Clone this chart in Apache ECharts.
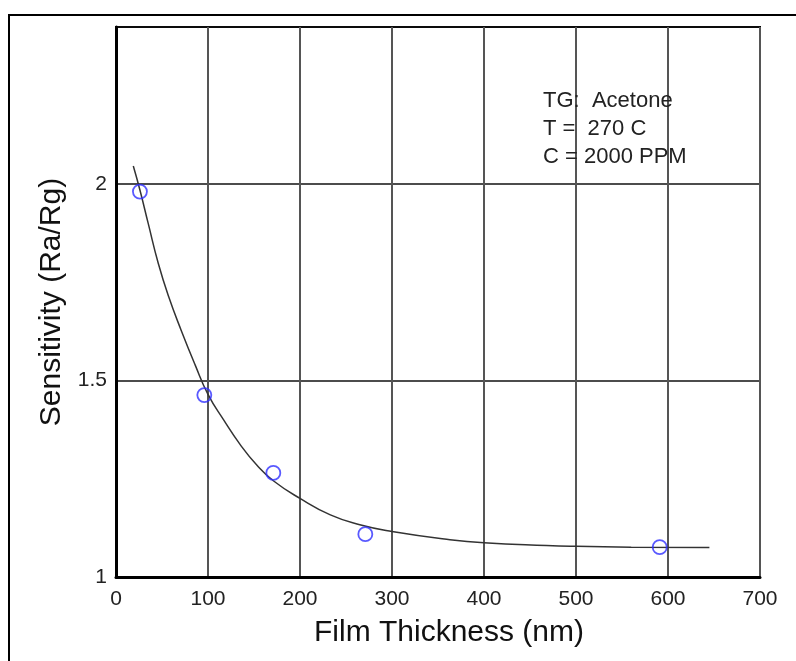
<!DOCTYPE html>
<html>
<head>
<meta charset="utf-8">
<script src="https://cdn.jsdelivr.net/npm/echarts@6/dist/echarts.min.js"></script>
<style>html,body{margin:0;padding:0;background:#fff}#c{width:796px;height:661px}</style>
</head>
<body>
<div id="c"></div>
<script>
// Measured data points (film thickness nm, sensitivity)
const pointX = [26, 96, 171, 271, 591];
const pointY = [1.981, 1.463, 1.265, 1.109, 1.076];
// Fitted curve
const curveX = [18.8, 26, 35, 46, 57, 71, 86, 100, 117, 135, 153, 171, 200, 233, 265, 300, 363, 400, 468, 500, 560, 645];
const curveY = [2.046, 1.985, 1.900, 1.798, 1.715, 1.627, 1.540, 1.465, 1.400, 1.337, 1.285, 1.245, 1.200, 1.158, 1.133, 1.116, 1.095, 1.087, 1.080, 1.078, 1.076, 1.075];
const xTicks = [0, 100, 200, 300, 400, 500, 600, 700];
const yTicks = [1, 1.5, 2];
const notes = ['TG:  Acetone', 'T =  270 C', 'C = 2000 PPM'];
const xName = 'Film Thickness (nm)';
const yName = 'Sensitivity (Ra/Rg)';

const FONT = 'Liberation Sans, Arial, sans-serif';
const chart = echarts.init(document.getElementById('c'));
chart.setOption({
  animation: false,
  backgroundColor: '#fff',
  grid: {left: 116, right: 36, top: 27, bottom: 84, show: true, borderColor: '#000', borderWidth: 2, backgroundColor: 'transparent'},
  xAxis: {
    type: 'value', min: xTicks[0], max: xTicks[xTicks.length - 1], interval: 100,
    name: xName, nameLocation: 'middle', nameGap: 41,
    nameTextStyle: {fontFamily: FONT, fontSize: 30, color: '#111', padding: [0, 0, 0, 22]},
    axisLine: {lineStyle: {color: '#000', width: 3}},
    axisTick: {show: false},
    axisLabel: {fontFamily: FONT, fontSize: 21, color: '#222', margin: 12,
      formatter: v => xTicks.indexOf(v) >= 0 ? String(v) : ''},
    splitLine: {show: true, lineStyle: {color: '#555', width: 2}}
  },
  yAxis: {
    type: 'value', min: 1, max: 2.4, interval: 0.5,
    name: yName, nameLocation: 'middle', nameGap: 38,
    nameTextStyle: {fontFamily: FONT, fontSize: 30, color: '#111'},
    axisLine: {lineStyle: {color: '#000', width: 3}},
    axisTick: {show: false},
    axisLabel: {fontFamily: FONT, fontSize: 21, color: '#222', margin: 9,
      formatter: v => yTicks.some(t => Math.abs(t - v) < 1e-9) ? String(v) : ''},
    splitLine: {show: true, lineStyle: {color: '#111', width: 1.5}}
  },
  graphic: [
    {type: 'rect', shape: {x: 9, y: 15, width: 800, height: 700}, style: {fill: 'none', stroke: '#000', lineWidth: 2}, silent: true, z: 100}
  ].concat(notes.map((t, i) => ({
    type: 'text', left: 543, top: 90 + i * 28, z: 100,
    style: {text: t, font: '22px ' + FONT, fill: '#222'}
  }))),
  series: [
    {
      type: 'line', data: curveX.map((x, i) => [x, curveY[i]]),
      showSymbol: false, smooth: 0.5,
      lineStyle: {color: '#333', width: 1.5}, z: 2
    },
    {
      type: 'scatter', data: pointX.map((x, i) => [x, pointY[i]]),
      symbol: 'circle', symbolSize: 14,
      itemStyle: {color: 'rgba(0,0,0,0)', borderColor: '#3030ff', borderWidth: 1.8}, z: 3
    }
  ]
});
</script>
</body>
</html>
